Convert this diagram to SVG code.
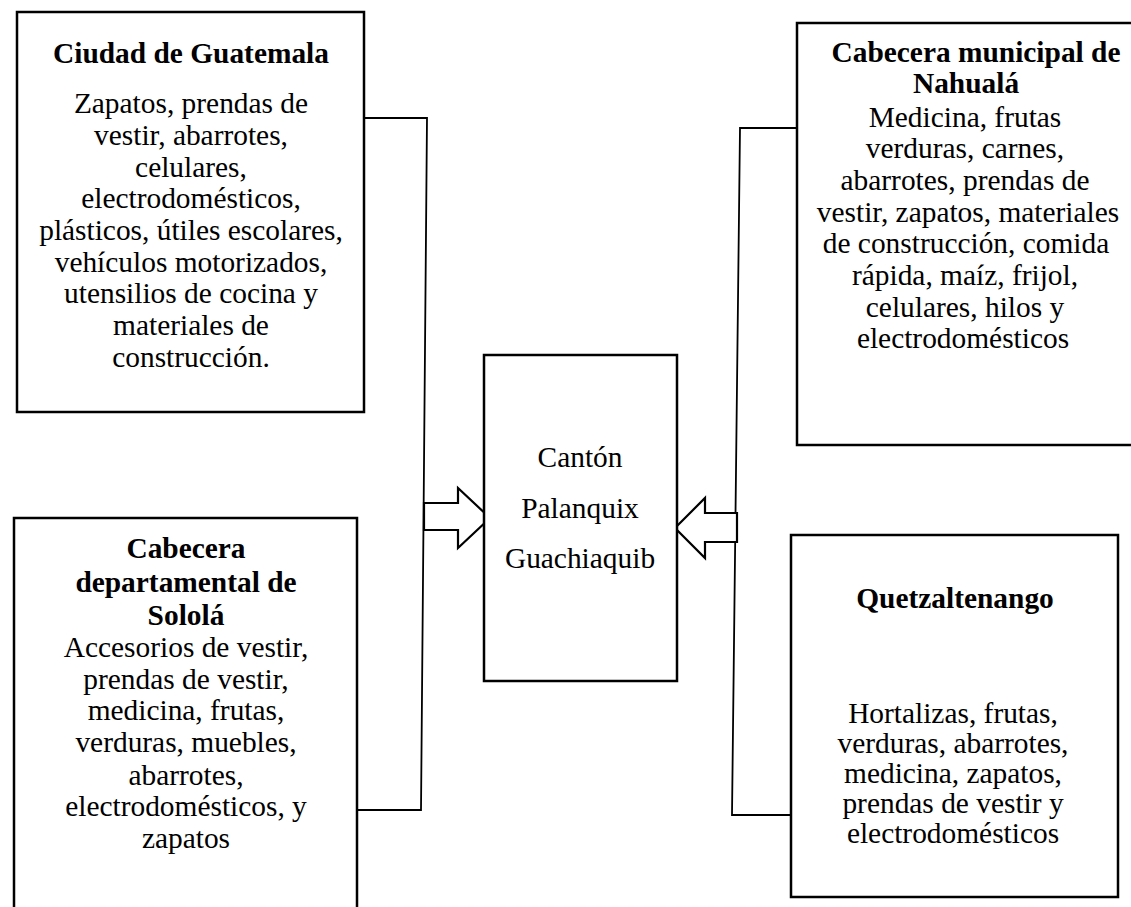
<svg xmlns="http://www.w3.org/2000/svg" width="1131" height="907" viewBox="0 0 1131 907">
<style>
.box{fill:#fff;stroke:#000;stroke-width:2.5}
.conn{fill:none;stroke:#000;stroke-width:1.8}
.arr{fill:#fff;stroke:#000;stroke-width:2.2;stroke-linejoin:miter}
text{font-family:"Liberation Serif","Times New Roman",serif;font-size:29.4px;fill:#000;text-anchor:middle}
.t{font-weight:bold}
</style>
<rect width="1131" height="907" fill="#fff"/>
<g id="connectors">
<path class="conn" d="M364,118 L427,118 L421,810 L357,810"/>
<path class="conn" d="M798,128 L740,128 L732,815 L791,815"/>
<path class="arr" d="M424,503 L458,503 L458,488 L490,518 L458,548 L458,530 L424,530 Z"/>
<path class="arr" d="M737,513 L705,513 L705,498 L675,528 L705,558 L705,542 L737,542 Z"/>
</g>
<g id="guatemala">
<rect class="box" x="17" y="12" width="347" height="400"/>
<text class="t" x="191" y="63">Ciudad de Guatemala</text>
<text x="191" y="113">Zapatos, prendas de</text>
<text x="191" y="145">vestir, abarrotes,</text>
<text x="191" y="177">celulares,</text>
<text x="191" y="208">electrodomésticos,</text>
<text x="191" y="240">plásticos, útiles escolares,</text>
<text x="191" y="272">vehículos motorizados,</text>
<text x="191" y="303">utensilios de cocina y</text>
<text x="191" y="335">materiales de</text>
<text x="191" y="367">construcción.</text>
</g>
<g id="solola">
<rect class="box" x="14" y="518" width="343" height="400"/>
<text class="t" x="186" y="558">Cabecera</text>
<text class="t" x="186" y="592">departamental de</text>
<text class="t" x="186" y="625">Sololá</text>
<text x="186" y="657">Accesorios de vestir,</text>
<text x="186" y="689">prendas de vestir,</text>
<text x="186" y="720">medicina, frutas,</text>
<text x="186" y="752">verduras, muebles,</text>
<text x="186" y="785">abarrotes,</text>
<text x="186" y="816">electrodomésticos, y</text>
<text x="186" y="848">zapatos</text>
</g>
<g id="canton">
<rect class="box" x="484" y="355" width="193" height="326"/>
<text x="580" y="467">Cantón</text>
<text x="580" y="518">Palanquix</text>
<text x="580" y="568">Guachiaquib</text>
</g>
<g id="nahuala">
<rect class="box" x="797" y="23" width="350" height="422"/>
<text class="t" x="976" y="62">Cabecera municipal de</text>
<text class="t" x="966" y="93">Nahualá</text>
<text x="965" y="127">Medicina, frutas</text>
<text x="965" y="158">verduras, carnes,</text>
<text x="965" y="190">abarrotes, prendas de</text>
<text x="968" y="222">vestir, zapatos, materiales</text>
<text x="966" y="253">de construcción, comida</text>
<text x="965" y="285">rápida, maíz, frijol,</text>
<text x="965" y="317">celulares, hilos y</text>
<text x="963" y="348">electrodomésticos</text>
</g>
<g id="quetzaltenango">
<rect class="box" x="791" y="535" width="327" height="362"/>
<text class="t" x="955" y="608">Quetzaltenango</text>
<text x="953" y="723">Hortalizas, frutas,</text>
<text x="953" y="753">verduras, abarrotes,</text>
<text x="953" y="783">medicina, zapatos,</text>
<text x="953" y="813">prendas de vestir y</text>
<text x="953" y="843">electrodomésticos</text>
</g>
</svg>
